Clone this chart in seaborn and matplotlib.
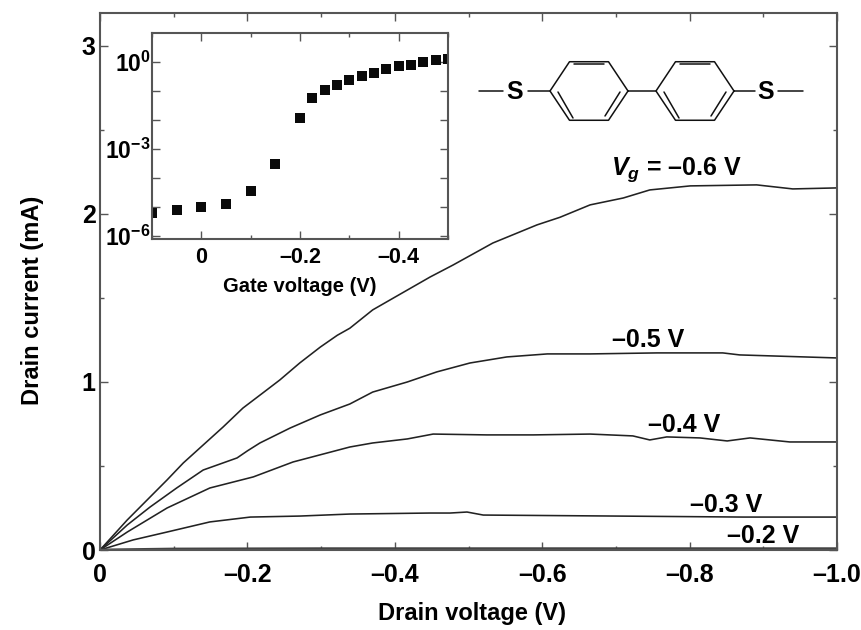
import numpy as np
import seaborn as sns
import matplotlib.pyplot as plt
import matplotlib.ticker as mticker

sns.set_theme(style="ticks")
plt.rcParams["font.family"] = ["Liberation Sans", "DejaVu Sans"]
plt.rcParams["font.weight"] = "bold"
plt.rcParams["text.color"] = "black"
plt.rcParams["axes.labelcolor"] = "black"
plt.rcParams["xtick.labelcolor"] = "black"
plt.rcParams["ytick.labelcolor"] = "black"
plt.rcParams["mathtext.fontset"] = "custom"
plt.rcParams["mathtext.rm"] = "Liberation Sans:bold"
plt.rcParams["mathtext.bf"] = "Liberation Sans:bold"
plt.rcParams["mathtext.it"] = "Liberation Sans:italic:bold"

# Drain curves (drain voltage in V, current in mA)
v_06 = [0, -.037, -.064, -.091, -.113, -.140, -.167, -.194, -.221, -.244, -.271, -.299, -.322, -.339,
        -.370, -.403, -.448, -.479, -.533, -.593, -.624, -.665, -.710, -.746, -.801, -.891, -.940, -1.0]
i_06 = [0, .179, .298, .417, .518, .625, .732, .845, .935, 1.012, 1.113, 1.208, 1.278, 1.32,
        1.429, 1.512, 1.625, 1.696, 1.827, 1.935, 1.980, 2.054, 2.095, 2.143, 2.167, 2.173, 2.149, 2.155]
v_05 = [0, -.037, -.068, -.104, -.140, -.186, -.200, -.217, -.258, -.299, -.339, -.370, -.417, -.457, -.502,
        -.552, -.607, -.665, -.756, -.845, -.868, -1.0]
i_05 = [0, .149, .256, .369, .476, .548, .59, .637, .726, .804, .869, .94, 1.0, 1.06, 1.113,
        1.149, 1.167, 1.167, 1.173, 1.173, 1.161, 1.143]
v_04 = [0, -.037, -.091, -.149, -.208, -.262, -.339, -.370, -.417, -.452, -.525, -.588, -.665, -.723,
        -.746, -.769, -.814, -.851, -.882, -.936, -1.0]
i_04 = [0, .107, .25, .369, .435, .524, .613, .637, .661, .69, .685, .685, .69, .679,
        .655, .673, .667, .649, .667, .643, .643]
v_03 = [0, -.045, -.091, -.149, -.204, -.271, -.339, -.448, -.475, -.498, -.52, -.7, -.873, -1.0]
i_03 = [0, .06, .107, .167, .196, .202, .214, .22, .22, .226, .208, .202, .196, .196]
v_02 = [0, -.05, -.1, -.3, -.6, -1.0]
i_02 = [0, .003, .006, .008, .008, .008]

x_ticks = [0, -.2, -.4, -.6, -.8, -1.0]
x_labels = ["0", "\u20130.2", "\u20130.4", "\u20130.6", "\u20130.8", "\u20131.0"]
y_ticks = [0, 1, 2, 3]

# Inset: transfer curve
gate_v = [.1, .05, 0, -.05, -.1, -.15, -.2, -.225, -.25, -.275, -.3, -.325, -.35, -.375, -.4, -.425, -.45, -.475, -.5]
gate_i = [6.2e-6, 7.8e-6, 1e-5, 1.3e-5, 3.6e-5, 3e-4, 1.2e-2, 5.8e-2, .105, .166, .24, .32, .43, .56, .71, .81, 1.0, 1.15, 1.26]
inset_x_ticks = [0, -.2, -.4]
inset_x_labels = ["0", "\u20130.2", "\u20130.4"]

curve_labels = ["\u20130.5 V", "\u20130.4 V", "\u20130.3 V", "\u20130.2 V"]

W, H = 862, 630
fig = plt.figure(figsize=(W / 100, H / 100), dpi=100)
spine_col = "#555555"

ax = fig.add_axes([100 / W, 1 - 550 / H, 737 / W, 537 / H])
for v, i in [(v_06, i_06), (v_05, i_05), (v_04, i_04), (v_03, i_03)]:
    sns.lineplot(x=v, y=i, ax=ax, color="#222222", linewidth=1.15, sort=False, errorbar=None)
sns.lineplot(x=v_02, y=i_02, ax=ax, color="#444444", linewidth=2.0, sort=False, errorbar=None)
ax.set_xlim(0, -1)
ax.set_ylim(0, 3.196)
ax.set_xticks(x_ticks)
ax.set_xticklabels(x_labels)
ax.set_yticks(y_ticks)
ax.xaxis.set_minor_locator(mticker.MultipleLocator(.1))
ax.yaxis.set_minor_locator(mticker.MultipleLocator(.5))
ax.tick_params(which="major", direction="in", top=True, right=True, length=6, width=1, color=spine_col, labelsize=18)
ax.tick_params(axis="x", pad=9)
ax.tick_params(axis="y", pad=3)
ax.tick_params(which="minor", direction="in", top=True, right=True, length=3, width=1, color=spine_col)
for s in ax.spines.values():
    s.set_color(spine_col)
    s.set_linewidth(1.5)
ax.set_xlabel("Drain voltage (V)", fontsize=17, fontweight="bold")
ax.set_ylabel("Drain current (mA)", fontsize=17, fontweight="bold")
ax.xaxis.set_label_coords(.505, -.097)
ax.yaxis.set_label_coords(-.076, .4655)

ins = fig.add_axes([152 / W, 1 - 239 / H, 296 / W, 206 / H])
sns.scatterplot(x=gate_v, y=gate_i, ax=ins, marker="s", s=62, color="#0a0a0a", linewidth=0)
ins.set_yscale("log")
ins.set_xlim(.1, -.5)
ins.set_ylim(10 ** -6.1, 10)
ins.set_xticks(inset_x_ticks)
ins.set_xticklabels(inset_x_labels)
ins.xaxis.set_minor_locator(mticker.MultipleLocator(.1))
ins.set_yticks([1e-6, 1e-5, 1e-4, 1e-3, 1e-2, 1e-1, 1])
ins.set_yticklabels(["$10^{\u22126}$", "", "", "$10^{\u22123}$", "", "", "$10^{0}$"])
ins.yaxis.set_minor_locator(mticker.NullLocator())
ins.tick_params(which="major", direction="in", top=True, right=True, length=6, width=1, color=spine_col, labelsize=15.5, pad=6)
ins.tick_params(axis="y", pad=1, labelsize=16.5)
ins.tick_params(which="minor", direction="in", top=True, right=True, length=3, width=1, color=spine_col)
for s in ins.spines.values():
    s.set_color(spine_col)
    s.set_linewidth(1.5)
ins.set_xlabel("Gate voltage (V)", fontsize=14.5, fontweight="bold", labelpad=6.5)

# Overlay in pixel units for the molecule and curve labels
ov = fig.add_axes([0, 0, 1, 1], facecolor="none")
ov.set_xlim(0, W)
ov.set_ylim(H, 0)
ov.axis("off")
mol = dict(color="#111111", lw=1.1, solid_capstyle="round")
for cx in [589, 695]:
    ang = np.radians(np.arange(0, 361, 60))
    ov.plot(cx + 39 * np.cos(ang), 91 + 33.8 * np.sin(ang), **mol)
    ov.plot([cx - 15, cx + 15], [64, 64], **mol)
    ov.plot([cx - 31, cx - 16], [92, 118], **mol)
    ov.plot([cx + 31, cx + 16], [92, 116], **mol)
for x0, x1 in [(479, 503), (528, 550), (628, 656), (734, 755), (778, 803)]:
    ov.plot([x0, x1], [91, 91], **mol)
ov.text(515, 92, "S", fontsize=18, ha="center", va="center")
ov.text(766, 92, "S", fontsize=18, ha="center", va="center")

ov.text(611, 170, "$\\mathit{V_g}$ = \u20130.6 V", fontsize=18, ha="left", va="center")
for lab, x, y in zip(curve_labels, [612, 648, 690, 727], [340, 425, 505, 536]):
    ov.text(x, y, lab, fontsize=18, ha="left", va="center")

fig.savefig("out.png", dpi=100)
